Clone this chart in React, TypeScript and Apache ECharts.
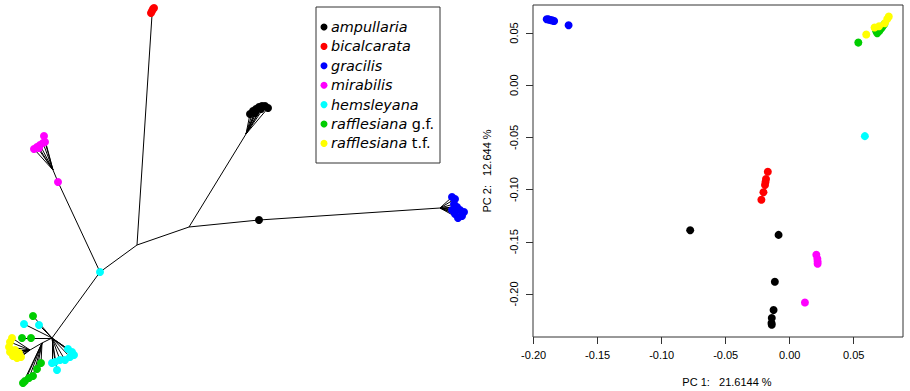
import { useEffect, useRef } from "react";
import * as echarts from "echarts";

// ---------- Legend / species ----------
const speciesItalic = ["ampullaria", "bicalcarata", "gracilis", "mirabilis", "hemsleyana", "rafflesiana", "rafflesiana"];
const speciesSuffix = ["", "", "", "", "", " g.f.", " t.f."];
const speciesColors = ["#000000", "#FF0000", "#0000FF", "#FF00FF", "#00FFFF", "#00CD00", "#FFFF00"];

// ---------- PCA (right panel) ----------
const pcaAmpullaria = [[-0.0777, -0.1389], [-0.0087, -0.1434], [-0.0116, -0.1883], [-0.0126, -0.2154], [-0.014, -0.223], [-0.0142, -0.2278], [-0.014, -0.2294]];
const pcaBicalcarata = [[-0.0171, -0.0829], [-0.0185, -0.0899], [-0.0189, -0.0927], [-0.0193, -0.0956], [-0.0205, -0.1026], [-0.0221, -0.1097]];
const pcaGracilis = [[-0.1898, 0.0632], [-0.1886, 0.063], [-0.1875, 0.0626], [-0.1862, 0.0622], [-0.185, 0.0618], [-0.184, 0.0614], [-0.1727, 0.0574]];
const pcaMirabilis = [[0.0208, -0.1625], [0.0216, -0.1663], [0.0218, -0.1689], [0.0218, -0.1711], [0.0119, -0.2081]];
const pcaHemsleyana = [[0.0587, -0.0488], [0.0723, 0.0561], [0.0741, 0.0588]];
const pcaRafflesianaGF = [[0.0536, 0.0408], [0.0684, 0.0497], [0.0676, 0.0516], [0.07, 0.0519], [0.0717, 0.0545], [0.0733, 0.0574]];
const pcaRafflesianaTF = [[0.0598, 0.0485], [0.0663, 0.0552], [0.0698, 0.0564], [0.0743, 0.0593], [0.0762, 0.0634], [0.0774, 0.0657]];
const pcaBySpecies = [pcaAmpullaria, pcaBicalcarata, pcaGracilis, pcaMirabilis, pcaHemsleyana, pcaRafflesianaGF, pcaRafflesianaTF];

const pc1Ticks = [-0.2, -0.15, -0.1, -0.05, 0, 0.05];
const pc2Ticks = [-0.2, -0.15, -0.1, -0.05, 0, 0.05];
const pc1Title = "PC 1:   21.6144 %";
const pc2Title = "PC 2:   12.644 %";

// ---------- Tree (left panel), layout units ----------
const treeNodes: Record<string, number[]> = {
  C: [100, 272], A: [137, 245], B: [189, 227], D: [52, 338], E: [42, 343],
  redBase: [152, 15], blackFan: [246, 134], blackMid: [259, 220], blueFan: [440, 208],
  magMid: [58, 182], magFan: [53, 170], yelFan: [30, 350],
};
const treeEdges = [
  ["C", "A"], ["A", "B"], ["A", "redBase"], ["B", "blackFan"], ["B", "blackMid"], ["blackMid", "blueFan"],
  ["C", "magMid"], ["magMid", "magFan"], ["C", "D"], ["D", "E"], ["E", "yelFan"],
];
// tip groups: species index, parent node, tip positions
const treeTipsAmpullaria = [[250, 114], [253, 111], [256, 109], [259, 107], [262, 106], [265, 106], [268, 108], [255, 113], [261, 109]];
const treeTipsBicalcarata = [[151, 13], [152, 11], [153, 9], [154, 8]];
const treeTipsGracilis = [[452, 197], [455, 199], [454, 204], [457, 207], [460, 210], [464, 212], [462, 216], [458, 218], [455, 214], [452, 210]];
const treeTipsMirabilis = [[44, 136], [43, 143], [40, 145], [37, 147], [34, 149], [39, 148], [45, 142]];
const treeTipsHemsleyana = [[24, 324], [39, 325], [52, 363], [55, 362], [60, 360], [65, 360], [70, 357], [72, 352], [68, 349], [74, 355], [57, 370]];
const treeTipsRaffGF_D = [[33, 316], [22, 338], [31, 338]];
const treeTipsRaffGF_E = [[41, 363], [37, 369], [25, 381], [29, 378], [33, 376], [23, 383]];
const treeTipsRaffTF = [[12, 338], [10, 342], [9, 347], [10, 352], [13, 356], [17, 358], [21, 357], [15, 350], [19, 353]];
const treeTipGroups: [number, string, number[][]][] = [
  [0, "blackFan", treeTipsAmpullaria],
  [1, "redBase", treeTipsBicalcarata],
  [2, "blueFan", treeTipsGracilis],
  [3, "magFan", treeTipsMirabilis],
  [4, "D", treeTipsHemsleyana],
  [5, "D", treeTipsRaffGF_D],
  [5, "E", treeTipsRaffGF_E],
  [6, "yelFan", treeTipsRaffTF],
];
// nodes that carry a sample dot themselves
const treeNodeDots: [number, string][] = [[4, "C"], [0, "blackMid"], [3, "magMid"]];

export default function App() {
  const ref = useRef<HTMLDivElement>(null);
  useEffect(() => {
    if (!ref.current) return;
    const chart = echarts.init(ref.current, null, { renderer: "svg" });

    const edgeData: any[] = treeEdges.map(([a, b]) => ({ coords: [treeNodes[a], treeNodes[b]] }));
    treeTipGroups.forEach(([, parent, tips]) => {
      tips.forEach((t) => edgeData.push({ coords: [treeNodes[parent], t] }));
    });

    const treeDotsBySpecies: number[][][] = speciesColors.map(() => []);
    treeTipGroups.forEach(([s, , tips]) => tips.forEach((t) => treeDotsBySpecies[s].push(t)));
    treeNodeDots.forEach(([s, n]) => treeDotsBySpecies[s].push(treeNodes[n]));

    const axisFont = { fontFamily: "Liberation Sans", fontSize: 11, color: "#000" };
    const legendFont = "DejaVu Sans";
    const legendGraphics: any[] = [
      { type: "rect", shape: { x: 316, y: 7, width: 124, height: 156 }, style: { fill: "#fff", stroke: "#333", lineWidth: 1 }, z: 10 },
    ];
    speciesItalic.forEach((name, i) => {
      const cy = 27 + i * 19.4;
      legendGraphics.push({ type: "circle", shape: { cx: 324, cy, r: 3.5 }, style: { fill: speciesColors[i] }, z: 11 });
      legendGraphics.push({
        type: "text", x: 331, y: cy, z: 11,
        style: {
          text: "{i|" + name + "}{n|" + speciesSuffix[i] + "}",
          verticalAlign: "middle", align: "left", fill: "#000",
          fontFamily: legendFont, fontSize: 14.4,
          rich: {
            i: { fontFamily: legendFont, fontSize: 14.4, fontStyle: "italic", fill: "#000" },
            n: { fontFamily: legendFont, fontSize: 14.4, fontStyle: "normal", fill: "#000" },
          },
        },
      });
    });

    const series: any[] = [
      {
        type: "lines", coordinateSystem: "cartesian2d", xAxisIndex: 1, yAxisIndex: 1,
        data: edgeData, lineStyle: { color: "#000", width: 1, opacity: 1 }, silent: true, z: 1,
      },
      ...speciesColors.map((c, i) => ({
        type: "scatter", xAxisIndex: 1, yAxisIndex: 1, data: treeDotsBySpecies[i],
        symbolSize: 8, itemStyle: { color: c, opacity: 1 }, z: 2,
      })),
      ...speciesColors.map((c, i) => ({
        type: "scatter", xAxisIndex: 0, yAxisIndex: 0, data: pcaBySpecies[i],
        symbolSize: 8, itemStyle: { color: c, opacity: 1 }, z: 3,
      })),
    ];

    chart.setOption({
      animation: false,
      backgroundColor: "#fff",
      grid: [
        { left: 533, top: 5, width: 370, height: 332, show: true, borderColor: "#333", borderWidth: 1, outerBoundsMode: "none", containLabel: false },
        { left: 0, top: 0, width: 480, height: 391, show: false, outerBoundsMode: "none", containLabel: false },
      ],
      xAxis: [
        {
          type: "value", gridIndex: 0, min: -0.2005, max: 0.0885, position: "bottom",
          axisLine: { show: false, onZero: false },
          axisTick: { show: true, inside: false, length: 7, lineStyle: { color: "#333" }, customValues: pc1Ticks },
          axisLabel: { ...axisFont, margin: 12, customValues: pc1Ticks, formatter: (v: number) => v.toFixed(2) },
          splitLine: { show: false },
          name: pc1Title, nameLocation: "middle", nameGap: 39,
          nameTextStyle: { ...axisFont, padding: [0, 0, 0, 18] },
        },
        { type: "value", gridIndex: 1, min: 0, max: 480, show: false },
      ],
      yAxis: [
        {
          type: "value", gridIndex: 0, min: -0.2412, max: 0.0768, position: "left",
          axisLine: { show: false, onZero: false },
          axisTick: { show: true, inside: false, length: 7, lineStyle: { color: "#333" }, customValues: pc2Ticks },
          axisLabel: { ...axisFont, margin: 14, rotate: 90, customValues: pc2Ticks, formatter: (v: number) => v.toFixed(2) },
          splitLine: { show: false },
          name: pc2Title, nameLocation: "middle", nameGap: 41, nameRotate: 90,
          nameTextStyle: { ...axisFont },
        },
        { type: "value", gridIndex: 1, min: 0, max: 391, inverse: true, show: false },
      ],
      graphic: legendGraphics,
      series,
    });
    return () => chart.dispose();
  }, []);
  return <div ref={ref} style={{ position: "fixed", left: 0, top: 0, width: 910, height: 391 }} />;
}
